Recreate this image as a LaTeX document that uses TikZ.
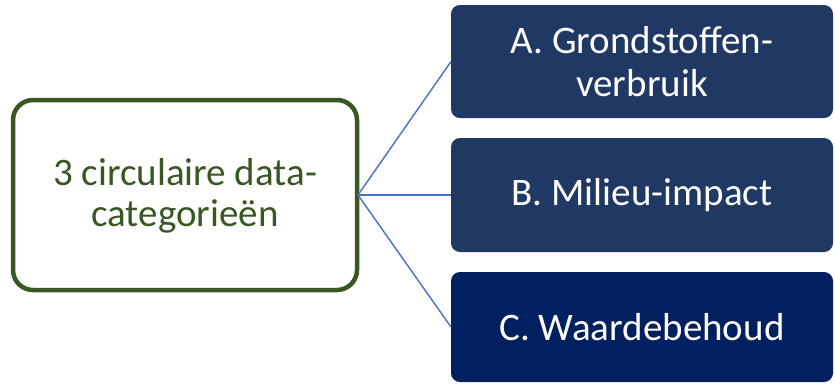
\documentclass[tikz,border=0pt]{standalone}
\usepackage{fontspec}
\setmainfont{Carlito}
\definecolor{leafgreen}{HTML}{385723}
\definecolor{slateblue}{HTML}{203864}
\definecolor{deepnavy}{HTML}{002060}
\definecolor{linkblue}{HTML}{4472C4}
\begin{document}
\begin{tikzpicture}[x=1pt,y=-1pt,
  hubbox/.style={draw=leafgreen, line width=4.5pt, fill=white, rounded corners=20pt,
    text=leafgreen, align=center, font=\fontsize{39}{41}\selectfont},
  catbox/.style={rounded corners=9pt, text=white, align=center,
    font=\fontsize{39}{43}\selectfont},
  link/.style={draw=linkblue, line width=1.4pt}]
\useasboundingbox (0,0) rectangle (835,384);
% category boxes
\fill[slateblue, rounded corners=9pt] (451,5) rectangle (833,118);
\fill[slateblue, rounded corners=9pt] (451,138) rectangle (833,252);
\fill[deepnavy, rounded corners=9pt] (451,272) rectangle (833,382);
\node[catbox] (a) at (642,61.5) {A. Grondstoffen-\\verbruik};
\node[catbox] (b) at (642,195) {B. Milieu-impact};
\node[catbox] (c) at (642,327) {C. Waardebehoud};
\coordinate (ain) at (451,61.5);
\coordinate (bin) at (451,195);
\coordinate (cin) at (451,327);
% central box
\draw[draw=leafgreen, line width=4.5pt, rounded corners=20pt] (13,100) rectangle (357,290);
\node[text=leafgreen, align=center, font=\fontsize{39}{41}\selectfont] (hub) at (185,196) {3 circulaire data-\\categorieën};
\coordinate (hubout) at (358,195);
% connectors
\draw[link] (hubout) -- (ain);
\draw[link] (hubout) -- (bin);
\draw[link] (hubout) -- (cin);
\end{tikzpicture}
\end{document}
